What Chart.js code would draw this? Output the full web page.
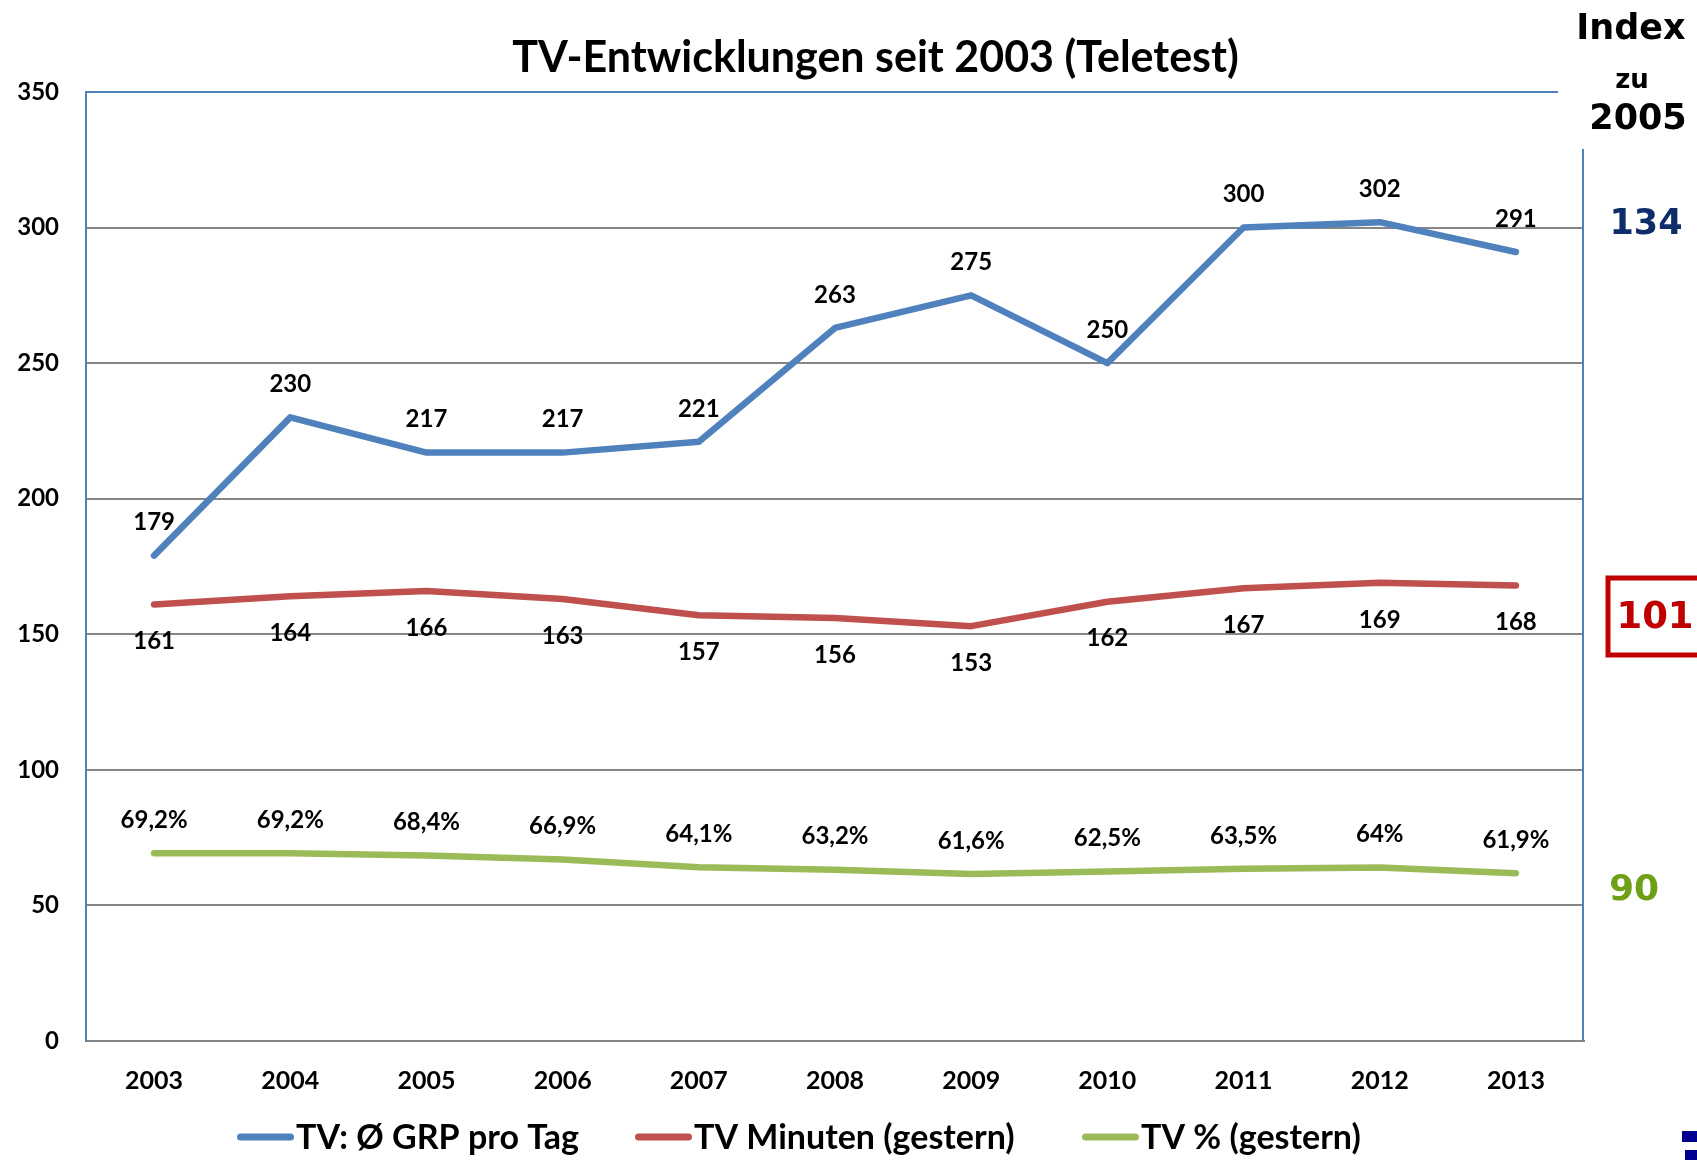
<!DOCTYPE html>
<html>
<head>
  <title>TV-Entwicklungen seit 2003 (Teletest)</title>
  <meta charset="utf-8">
  <script src="https://cdn.jsdelivr.net/npm/chart.js"></script>
  <style>
    body { margin: 0; background: #fff; }
    canvas { display: block; }
  </style>
</head>
<body>
  <canvas id="tv-chart" width="1697" height="1160"></canvas>

  <script>
    // values
    const years = ['2003', '2004', '2005', '2006', '2007', '2008', '2009', '2010', '2011', '2012', '2013'];
    const grpPerDay = [179, 230, 217, 217, 221, 263, 275, 250, 300, 302, 291];
    const tvMinutes = [161, 164, 166, 163, 157, 156, 153, 162, 167, 169, 168];
    const tvPercent = [69.2, 69.2, 68.4, 66.9, 64.1, 63.2, 61.6, 62.5, 63.5, 64, 61.9];
    const yTicks = [0, 50, 100, 150, 200, 250, 300, 350];
    const seriesNames = ['TV: Ø GRP pro Tag', 'TV Minuten (gestern)', 'TV % (gestern)'];
    const indexVs2005 = [134, 101, 90];

    const FONT = 'Lato';
    const SIDE_FONT = '"DejaVu Sans"';
    const BLUE = '#4F81BD', RED = '#C0504D', GREEN = '#9BBB59';
    const GRID = '#868686';

    // labels above / below the points, like the excel data labels
    const labelOffset = [-33, 37, -33];
    const fmtPercent = v => String(v).replace('.', ',') + '%';
    const labelFormat = [v => String(v), v => String(v), fmtPercent];

    const valueLabels = {
      id: 'valueLabels',
      afterDatasetsDraw(chart) {
        const ctx = chart.ctx;
        ctx.save();
        ctx.font = `bold 24px ${FONT}`;
        ctx.fillStyle = '#000';
        ctx.textAlign = 'center';
        ctx.textBaseline = 'middle';
        chart.data.datasets.forEach((ds, i) => {
          chart.getDatasetMeta(i).data.forEach((pt, j) => {
            ctx.fillText(labelFormat[i](ds.data[j]), pt.x, pt.y + labelOffset[i]);
          });
        });
        ctx.restore();
      }
    };

    // blue frame (top and right side are cut where the index column sits)
    const frame = {
      id: 'frame',
      beforeDatasetsDraw(chart) {
        const {ctx, chartArea: a} = chart;
        ctx.save();
        ctx.strokeStyle = BLUE;
        ctx.lineWidth = 2;
        ctx.beginPath();
        ctx.moveTo(a.left, a.top);
        ctx.lineTo(1558, a.top);
        ctx.moveTo(a.right - 1, 149);
        ctx.lineTo(a.right - 1, a.bottom);
        ctx.stroke();
        ctx.restore();
      }
    };

    // "Index zu 2005" column on the right
    const indexPanel = {
      id: 'indexPanel',
      afterDraw(chart) {
        const ctx = chart.ctx;
        ctx.save();
        ctx.textAlign = 'center';
        ctx.textBaseline = 'middle';
        ctx.fillStyle = '#000';
        ctx.font = `bold 35px ${SIDE_FONT}`;
        ctx.fillText('Index', 1631, 30);
        ctx.font = `bold 26px ${SIDE_FONT}`;
        ctx.fillText('zu', 1632, 81);
        ctx.font = `bold 35px ${SIDE_FONT}`;
        ctx.fillText('2005', 1638, 120);

        ctx.font = `bold 35px ${SIDE_FONT}`;
        ctx.fillStyle = '#0f2d69';
        ctx.fillText(String(indexVs2005[0]), 1646, 225);

        ctx.strokeStyle = '#C00000';
        ctx.lineWidth = 5;
        ctx.strokeRect(1608, 578, 95, 77);
        ctx.font = `bold 37px ${SIDE_FONT}`;
        ctx.fillStyle = '#C00000';
        ctx.fillText(String(indexVs2005[1]), 1655, 618);

        ctx.font = `bold 36px ${SIDE_FONT}`;
        ctx.fillStyle = '#6f9f17';
        ctx.fillText(String(indexVs2005[2]), 1634, 891);

        // cut-off logo in the corner
        ctx.fillStyle = '#000090';
        ctx.fillRect(1682, 1131, 15, 11);
        ctx.fillRect(1685, 1150, 12, 10);
        ctx.restore();
      }
    };

    // legend row under the axis: short thick line, name right behind it
    const legendX = [237, 635, 1082];
    const legendRow = {
      id: 'legendRow',
      afterDraw(chart) {
        const ctx = chart.ctx;
        ctx.save();
        ctx.font = `bold 34px ${FONT}`;
        ctx.textAlign = 'left';
        ctx.textBaseline = 'middle';
        ctx.lineCap = 'round';
        ctx.lineWidth = 7;
        chart.data.datasets.forEach((ds, i) => {
          const x = legendX[i];
          ctx.strokeStyle = ds.borderColor;
          ctx.beginPath();
          ctx.moveTo(x + 3.5, 1137);
          ctx.lineTo(x + 53.5, 1137);
          ctx.stroke();
          ctx.fillStyle = '#000';
          ctx.fillText(ds.label, x + 59, 1138);
        });
        ctx.restore();
      }
    };

    // title sits a bit right of the canvas centre on the slide
    const titleShift = {
      id: 'titleShift',
      afterLayout(chart) {
        chart.titleBlock.left += 27;
        chart.titleBlock.right += 27;
      }
    };

    function lineSet(label, data, color) {
      return {
        label: label,
        data: data,
        yAxisID: 'y',
        borderColor: color,
        backgroundColor: color,
        borderWidth: 6.5,
        borderCapStyle: 'round',
        borderJoinStyle: 'round',
        pointRadius: 0,
        tension: 0,
        fill: false
      };
    }

    Chart.defaults.font.family = FONT;
    Chart.defaults.font.weight = 'bold';
    Chart.defaults.color = '#000';

    new Chart(document.getElementById('tv-chart'), {
      type: 'line',
      data: {
        labels: years,
        datasets: [
          lineSet(seriesNames[0], grpPerDay, BLUE),
          lineSet(seriesNames[1], tvMinutes, RED),
          lineSet(seriesNames[2], tvPercent, GREEN)
        ]
      },
      options: {
        responsive: false,
        animation: false,
        devicePixelRatio: 1,
        layout: { padding: 0 },
        plugins: {
          title: {
            display: true,
            text: 'TV-Entwicklungen seit 2003 (Teletest)',
            color: '#000',
            font: { size: 43, weight: 'bold' },
            padding: { top: 32, bottom: 8.4 }
          },
          legend: { display: false },
          tooltip: { enabled: false }
        },
        scales: {
          x: {
            offset: true,
            grid: { display: false },
            border: { color: GRID, width: 2 },
            ticks: { font: { size: 25, weight: 'bold' }, padding: 17 },
            afterFit: s => { s.height = 119; }
          },
          y: {
            position: 'left',
            min: 0,
            max: 350,
            afterBuildTicks: s => { s.ticks = yTicks.map(v => ({ value: v })); },
            grid: {
              drawTicks: false,
              lineWidth: 2,
              color: c => (c.tick && (c.tick.value === 350 || c.tick.value === 0)) ? 'rgba(0,0,0,0)' : GRID
            },
            border: { color: BLUE, width: 2 },
            ticks: { font: { size: 24, weight: 'bold' }, padding: 27 },
            afterFit: s => { s.width = 86; }
          },
          y1: {
            position: 'right',
            min: 0,
            max: 350,
            grid: { display: false },
            border: { display: false },
            ticks: { display: false },
            afterFit: s => { s.width = 113; }
          }
        }
      },
      plugins: [frame, valueLabels, indexPanel, legendRow, titleShift]
    });
  </script>
</body>
</html>
